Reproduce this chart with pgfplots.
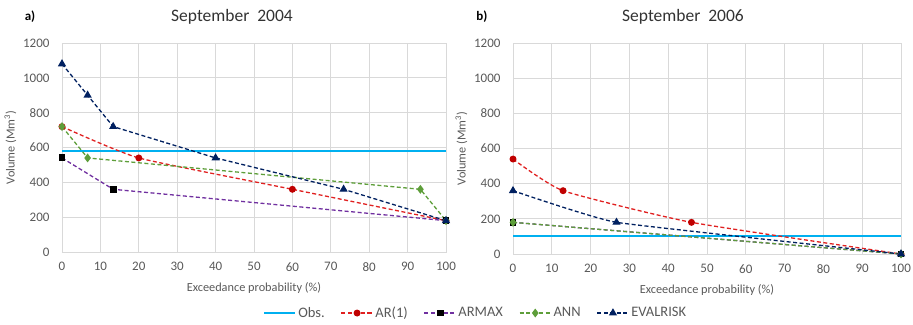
\documentclass[border=0pt]{standalone}
\usepackage{fontspec}
\setmainfont{Carlito}
\usepackage{pgfplots}
\pgfplotsset{compat=1.18}
\definecolor{obsblue}{rgb}{0,0.69,0.94}
\definecolor{arline}{HTML}{E02020}
\definecolor{armark}{HTML}{C00000}
\definecolor{armaxc}{HTML}{7030A0}
\definecolor{annc}{HTML}{5E9E3A}
\definecolor{evalc}{HTML}{002060}
\definecolor{txt}{HTML}{595959}
\definecolor{gridc}{HTML}{D9D9D9}
\pgfplotsset{
  every axis/.append style={
    scale only axis,
    xmin=0, xmax=100, ymin=0, ymax=1200,
    xtick={0,10,...,100}, ytick={0,200,...,1200},
    grid=major, major grid style={gridc, line width=0.8pt},
    axis line style={draw=gridc, line width=0.8pt},
    major tick length=0pt,
    tick label style={font=\fontsize{13}{13}\selectfont, text=txt},
    xticklabel style={yshift=-7pt},
    yticklabel style={xshift=-9pt},
    /pgf/number format/1000 sep={},
    /pgf/number format/assume math mode=true,
    label style={font=\fontsize{12.3}{12.3}\selectfont, text=txt},
    xlabel={Exceedance probability (\%)},
    ylabel={Volume (Mm\textsuperscript{3})},
    xlabel style={yshift=-4pt},
    clip=false,
  },
  dsh/.style={dash pattern=on 4pt off 2.5pt},
  obsst/.style={draw=obsblue, line width=2pt, mark=none},
  arst/.style={color=arline, dsh, line width=1.3pt, mark=*, mark size=2.8pt, mark options={solid, fill=armark, draw=armark}},
  armaxst/.style={color=armaxc, dsh, line width=1.3pt, mark=square*, mark size=2.8pt, mark options={solid, fill=black, draw=black}},
  annst/.style={color=annc, dsh, line width=1.3pt, mark=diamond*, mark size=3.4pt, mark options={solid, fill=annc, draw=annc}},
  evalst/.style={color=evalc, dsh, line width=1.3pt, mark=triangle*, mark size=3.5pt, mark options={solid, fill=evalc, draw=evalc}},
}
\begin{document}
\begin{tikzpicture}
\path[use as bounding box] (0,0) rectangle (913pt,324pt);
\begin{axis}[at={(62pt,72pt)}, anchor=south west, width=384pt, height=209pt,
  legend columns=5,
  legend style={at={(1.077,-0.292)}, anchor=center, draw=none, fill=none,
    font=\fontsize{14.5}{15}\selectfont, text=txt,
    /tikz/every even column/.append style={column sep=14pt}},
  legend image code/.code={
    \draw[mark repeat=2,mark phase=2] plot coordinates {(0cm,0cm) (0.55cm,0cm) (1.1cm,0cm)};}
  ]
\addplot[obsst] coordinates {(0,580) (100,580)};
\addlegendentry{Obs.}
\addplot[arst, smooth, tension=0.3] coordinates {(0,720) (20,540) (60,360) (100,180)};
\addlegendentry{AR(1)}
\addplot[armaxst] coordinates {(0,540) (13.33,360) (100,180)};
\addlegendentry{ARMAX}
\addplot[annst] coordinates {(0,720) (6.67,540) (93.33,360) (100,180)};
\addlegendentry{ANN}
\addplot[evalst] coordinates {(0,1080) (6.67,900) (13.33,720) (40,540) (73.33,360) (100,180)};
\addlegendentry{EVALRISK}
\end{axis}
\node[font=\bfseries\fontsize{13}{13}\selectfont, text=black] at (30pt,307pt) {a)};
\node[font=\fontsize{17.5}{17.5}\selectfont, text=black!80] at (232pt,307pt) {September\ \ 2004};
\begin{axis}[at={(513pt,70pt)}, anchor=south west, width=388pt, height=211pt]
\addplot[obsst] coordinates {(0,105) (100,105)};
\addplot[arst, smooth, tension=0.3] coordinates {(0,540) (12.9,360) (46,180) (100,0)};
\addplot[armaxst] coordinates {(0,180) (100,0)};
\addplot[annst] coordinates {(0,180) (100,0)};
\addplot[evalst, smooth, tension=0.2] coordinates {(0,360) (26.67,180) (100,0)};
\end{axis}
\node[font=\bfseries\fontsize{13}{13}\selectfont, text=black] at (482pt,307pt) {b)};
\node[font=\fontsize{17.5}{17.5}\selectfont, text=black!80] at (683pt,307pt) {September\ \ 2006};
\end{tikzpicture}
\end{document}
